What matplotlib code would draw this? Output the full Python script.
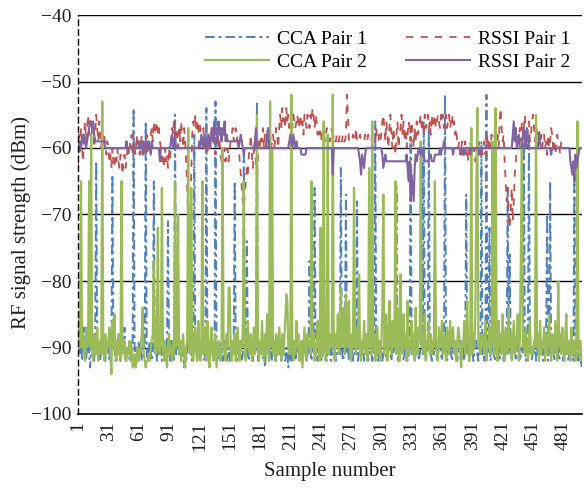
import matplotlib
matplotlib.use('Agg')
import matplotlib.pyplot as plt
import numpy as np

# values, one per sample (10 per line)
cca_pair1 = [
    -88, -90, -91, -89, -92, -90, -87, -91, -92, -90,
    -89, -91, -93, -90, -88, -91, -92, -89, -62, -90,
    -91, -89, -92, -90, -91, -88, -90, -92, -89, -91,
    -90, -92, -88, -91, -64, -90, -89, -92, -91, -90,
    -88, -91, -92, -90, -89, -91, -87, -92, -90, -91,
    -90, -92, -89, -91, -90, -54, -91, -93, -90, -92,
    -89, -91, -90, -92, -91, -89, -90, -56, -91, -92,
    -90, -89, -91, -92, -90, -65, -91, -89, -92, -90,
    -91, -88, -90, -92, -89, -91, -90, -92, -91, -71,
    -90, -92, -89, -91, -90, -92, -55, -91, -90, -89,
    -91, -90, -92, -89, -91, -93, -90, -92, -91, -89,
    -90, -77, -91, -92, -90, -58, -91, -89, -92, -90,
    -91, -92, -89, -90, -91, -92, -90, -54, -91, -89,
    -92, -90, -91, -89, -90, -92, -53, -91, -90, -92,
    -89, -91, -90, -92, -91, -89, -90, -92, -91, -90,
    -92, -90, -91, -89, -90, -65, -91, -92, -90, -89,
    -91, -90, -92, -91, -61, -90, -89, -74, -91, -92,
    -90, -91, -89, -92, -90, -91, -90, -53, -92, -90,
    -91, -89, -90, -92, -91, -93, -90, -89, -91, -92,
    -90, -91, -92, -89, -90, -91, -92, -90, -89, -91,
    -90, -92, -91, -89, -90, -92, -91, -90, -93, -91,
    -90, -92, -89, -91, -90, -92, -91, -89, -90, -92,
    -91, -90, -92, -89, -91, -90, -92, -91, -90, -77,
    -91, -92, -90, -89, -66, -91, -90, -92, -89, -91,
    -90, -92, -91, -89, -90, -91, -92, -90, -89, -91,
    -92, -90, -91, -89, -90, -92, -91, -90, -89, -91,
    -63, -90, -92, -91, -89, -67, -91, -90, -92, -89,
    -91, -90, -92, -89, -91, -90, -68, -92, -90, -91,
    -89, -91, -90, -92, -91, -89, -90, -92, -91, -90,
    -89, -92, -91, -90, -56, -91, -89, -92, -90, -91,
    -90, -92, -91, -89, -90, -92, -91, -90, -89, -91,
    -92, -90, -91, -89, -90, -66, -91, -92, -90, -89,
    -91, -90, -92, -91, -89, -90, -92, -91, -90, -57,
    -91, -89, -90, -92, -91, -90, -89, -92, -91, -90,
    -60, -91, -56, -90, -92, -91, -89, -57, -90, -91,
    -92, -90, -91, -89, -90, -92, -91, -90, -89, -91,
    -92, -90, -91, -52, -90, -92, -91, -89, -90, -91,
    -92, -90, -89, -91, -90, -92, -91, -90, -89, -92,
    -91, -90, -92, -89, -67, -91, -90, -92, -91, -89,
    -90, -92, -91, -90, -89, -91, -92, -90, -91, -59,
    -91, -90, -92, -89, -52, -91, -90, -72, -92, -91,
    -89, -90, -92, -91, -90, -89, -91, -92, -90, -91,
    -89, -92, -90, -91, -90, -66, -91, -76, -90, -92,
    -91, -89, -90, -92, -91, -90, -89, -92, -91, -90,
    -91, -59, -90, -92, -91, -89, -59, -91, -90, -92,
    -90, -91, -89, -92, -90, -91, -92, -90, -89, -91,
    -92, -90, -91, -89, -70, -92, -90, -65, -91, -89,
    -90, -92, -91, -90, -89, -91, -92, -90, -91, -89,
    -92, -90, -91, -89, -90, -92, -91, -90, -89, -91,
    -92, -64, -90, -91, -89, -92, -90, -91, -93, -90,
]

cca_pair2 = [
    -85, -88, -90, -65, -90, -88, -91, -92, -87, -90,
    -89, -65, -90, -58, -91, -92, -88, -90, -91, -87,
    -92, -90, -89, -91, -53, -90, -92, -88, -91, -90,
    -89, -87, -91, -94, -86, -90, -85, -91, -92, -89,
    -91, -88, -92, -65, -90, -91, -89, -92, -92, -90,
    -91, -89, -92, -90, -93, -92, -91, -93, -92, -90,
    -92, -91, -90, -88, -84, -91, -92, -93, -92, -92,
    -91, -92, -90, -89, -88, -77, -90, -91, -89, -72,
    -90, -91, -88, -66, -90, -92, -89, -91, -93, -90,
    -88, -91, -90, -92, -89, -91, -65, -90, -88, -70,
    -91, -89, -92, -90, -88, -91, -93, -90, -89, -57,
    -90, -91, -66, -90, -92, -89, -87, -91, -92, -86,
    -90, -92, -89, -65, -91, -87, -90, -92, -86, -91,
    -93, -89, -87, -91, -92, -90, -88, -93, -91, -89,
    -91, -92, -90, -60, -89, -91, -92, -88, -90, -81,
    -81, -90, -92, -89, -91, -88, -92, -90, -87, -91,
    -92, -89, -90, -88, -65, -91, -92, -89, -86, -90,
    -91, -88, -92, -90, -87, -91, -89, -55, -90, -92,
    -89, -91, -86, -90, -92, -88, -91, -85, -90, -92,
    -53, -90, -60, -91, -89, -92, -88, -90, -91, -87,
    -90, -92, -88, -91, -89, -86, -82, -83, -90, -91,
    -88, -52, -90, -92, -89, -91, -86, -90, -88, -92,
    -91, -89, -93, -90, -87, -91, -92, -88, -90, -89,
    -91, -65, -90, -88, -92, -91, -89, -86, -90, -92,
    -72, -90, -91, -56, -89, -92, -90, -58, -91, -88,
    -90, -89, -52, -91, -92, -88, -90, -85, -91, -89,
    -81, -90, -88, -84, -91, -82, -89, -90, -83, -91,
    -92, -88, -90, -66, -89, -91, -87, -90, -79, -91,
    -92, -89, -90, -86, -91, -88, -92, -90, -63, -89,
    -91, -56, -90, -88, -92, -90, -87, -91, -89, -92,
    -90, -84, -67, -91, -88, -85, -92, -90, -83, -89,
    -91, -86, -90, -88, -65, -91, -84, -90, -92, -79,
    -89, -91, -85, -90, -88, -92, -83, -91, -89, -90,
    -86, -91, -88, -92, -84, -90, -91, -87, -89, -59,
    -90, -88, -91, -85, -92, -89, -90, -86, -91, -88,
    -91, -89, -90, -65, -88, -91, -92, -87, -90, -89,
    -86, -91, -88, -90, -92, -87, -89, -91, -86, -90,
    -88, -87, -91, -89, -92, -90, -87, -88, -91, -93,
    -89, -90, -86, -91, -88, -83, -90, -92, -89, -57,
    -91, -88, -90, -85, -66, -54, -90, -89, -91, -88,
    -90, -88, -91, -86, -92, -89, -90, -87, -91, -88,
    -59, -90, -91, -54, -89, -92, -86, -90, -88, -91,
    -85, -90, -92, -87, -89, -91, -84, -90, -88, -92,
    -89, -86, -91, -90, -88, -85, -92, -89, -77, -59,
    -90, -88, -91, -87, -90, -92, -89, -86, -91, -90,
    -91, -89, -90, -55, -90, -88, -92, -86, -91, -89,
    -90, -87, -92, -88, -91, -89, -85, -90, -92, -88,
    -90, -91, -86, -89, -92, -80, -90, -88, -91, -87,
    -90, -92, -88, -85, -91, -89, -90, -92, -87, -91,
    -89, -90, -92, -88, -56, -91, -90, -89, -92, -91,
]

rssi_pair1 = [
    -63, -58, -61, -57, -60, -62, -58, -56, -59, -57,
    -55, -58, -56, -59, -57, -56, -60, -58, -55, -57,
    -59, -56, -58, -60, -57, -59, -58, -60, -61, -59,
    -60, -62, -61, -63, -60, -62, -63, -61, -62, -60,
    -62, -63, -61, -62, -64, -62, -61, -63, -62, -60,
    -61, -59, -60, -58, -61, -59, -60, -61, -58, -60,
    -59, -61, -60, -58, -60, -61, -59, -60, -58, -61,
    -60, -59, -58, -57, -59, -56, -58, -57, -56, -58,
    -57, -59, -60, -62, -61, -63, -60, -62, -61, -63,
    -60, -62, -59, -57, -58, -56, -59, -57, -58, -60,
    -57, -59, -56, -58, -60, -57, -59, -62, -66, -71,
    -75, -72, -64, -58, -56, -57, -55, -57, -56, -58,
    -56, -57, -59, -58, -57, -60, -58, -59, -61, -58,
    -59, -60, -57, -59, -58, -60, -61, -59, -58, -60,
    -59, -61, -62, -61, -62, -60, -62, -61, -60, -62,
    -60, -59, -58, -57, -59, -58, -57, -59, -58, -60,
    -62, -64, -66, -68, -69, -67, -65, -63, -64, -61,
    -60, -58, -61, -63, -60, -59, -62, -65, -61, -59,
    -60, -58, -59, -57, -60, -58, -59, -60, -57, -59,
    -58, -60, -59, -58, -60, -59, -57, -58, -60, -57,
    -55, -57, -54, -56, -55, -57, -54, -56, -55, -57,
    -56, -54, -57, -55, -56, -57, -56, -55, -57, -56,
    -55, -57, -56, -58, -55, -56, -57, -55, -56, -57,
    -55, -56, -54, -55, -57, -55, -56, -58, -57, -58,
    -57, -59, -58, -57, -59, -58, -57, -59, -58, -59,
    -58, -57, -59, -58, -59, -59, -58, -59, -59, -58,
    -59, -59, -58, -59, -59, -58, -52, -55, -59, -59,
    -59, -59, -58, -59, -59, -57, -59, -59, -59, -58,
    -59, -59, -59, -59, -58, -59, -59, -58, -59, -59,
    -59, -58, -59, -59, -59, -57, -59, -59, -58, -59,
    -58, -56, -55, -57, -59, -56, -58, -60, -57, -55,
    -58, -60, -57, -59, -61, -58, -56, -60, -58, -57,
    -55, -58, -56, -59, -57, -60, -58, -56, -57, -59,
    -56, -58, -60, -57, -59, -56, -58, -57, -56, -55,
    -57, -56, -58, -55, -57, -56, -55, -57, -56, -58,
    -55, -57, -56, -55, -57, -56, -55, -56, -57, -55,
    -56, -55, -57, -56, -55, -57, -56, -55, -57, -56,
    -55, -57, -56, -58, -57, -59, -60, -59, -61, -60,
    -59, -61, -60, -59, -61, -60, -62, -60, -59, -61,
    -60, -61, -60, -62, -60, -61, -60, -59, -61, -60,
    -61, -60, -59, -61, -60, -58, -60, -59, -60, -58,
    -59, -60, -58, -57, -59, -58, -60, -56, -54, -57,
    -59, -58, -62, -65, -68, -66, -70, -72, -69, -66,
    -71, -68, -64, -62, -60, -58, -59, -57, -59, -56,
    -58, -57, -55, -58, -60, -57, -56, -59, -58, -56,
    -55, -57, -59, -56, -58, -60, -57, -59, -58, -60,
    -59, -58, -60, -59, -61, -58, -60, -59, -57, -58,
    -60, -59, -61, -60, -58, -59, -60, -61, -59, -60,
    -60, -60, -60, -60, -60, -60, -60, -60, -60, -60,
    -60, -60, -60, -60, -60, -60, -60, -60, -60, -60,
]

rssi_pair2 = [
    -60, -59, -59, -60, -59, -58, -58, -59, -60, -59,
    -58, -57, -56, -56, -57, -56, -58, -59, -59, -59,
    -59, -59, -59, -59, -59, -59, -59, -60, -60, -60,
    -60, -60, -60, -60, -60, -60, -60, -60, -60, -60,
    -60, -60, -60, -60, -60, -60, -60, -60, -59, -60,
    -60, -60, -60, -60, -60, -60, -60, -60, -60, -60,
    -60, -59, -60, -59, -61, -59, -60, -59, -59, -60,
    -59, -60, -61, -59, -60, -60, -60, -60, -60, -60,
    -60, -62, -60, -60, -60, -60, -60, -60, -60, -60,
    -60, -60, -59, -58, -60, -59, -58, -60, -60, -60,
    -60, -60, -60, -60, -60, -60, -60, -60, -60, -60,
    -60, -60, -60, -60, -60, -60, -60, -60, -60, -60,
    -59, -60, -58, -59, -60, -58, -59, -60, -59, -58,
    -60, -59, -58, -57, -59, -56, -58, -57, -59, -56,
    -58, -57, -59, -57, -58, -56, -59, -58, -59, -59,
    -59, -59, -59, -59, -59, -59, -59, -59, -59, -60,
    -59, -58, -59, -60, -61, -60, -60, -60, -60, -60,
    -60, -60, -60, -60, -60, -59, -57, -60, -60, -60,
    -60, -60, -60, -60, -60, -60, -60, -58, -57, -60,
    -60, -60, -60, -60, -60, -60, -60, -60, -60, -60,
    -60, -60, -60, -60, -60, -60, -60, -60, -60, -59,
    -58, -59, -60, -58, -59, -60, -59, -60, -60, -60,
    -60, -61, -61, -61, -61, -61, -60, -60, -60, -60,
    -60, -60, -60, -60, -60, -60, -60, -60, -60, -60,
    -60, -60, -60, -60, -60, -60, -60, -60, -60, -60,
    -60, -60, -64, -60, -60, -60, -60, -60, -60, -60,
    -60, -60, -60, -60, -60, -60, -60, -60, -60, -60,
    -60, -60, -60, -60, -60, -60, -60, -60, -61, -62,
    -64, -61, -62, -63, -61, -60, -60, -60, -60, -60,
    -60, -60, -60, -60, -60, -60, -60, -60, -60, -60,
    -60, -61, -63, -62, -61, -62, -62, -62, -62, -62,
    -62, -62, -62, -62, -62, -62, -62, -62, -62, -62,
    -62, -62, -62, -62, -62, -61, -63, -65, -62, -68,
    -64, -66, -68, -63, -61, -62, -61, -60, -60, -61,
    -60, -61, -61, -62, -62, -62, -62, -62, -61, -61,
    -62, -62, -62, -61, -61, -61, -61, -61, -60, -61,
    -60, -60, -59, -60, -60, -60, -60, -60, -60, -60,
    -60, -61, -60, -60, -60, -60, -60, -60, -60, -60,
    -61, -60, -61, -60, -60, -60, -60, -60, -61, -60,
    -60, -60, -60, -60, -60, -60, -60, -61, -60, -60,
    -60, -60, -60, -60, -60, -60, -60, -60, -60, -60,
    -60, -60, -60, -60, -60, -60, -60, -60, -60, -60,
    -60, -60, -60, -60, -60, -60, -60, -60, -60, -60,
    -58, -56, -59, -57, -60, -59, -58, -60, -60, -60,
    -58, -57, -59, -60, -57, -58, -60, -60, -60, -60,
    -60, -60, -60, -60, -60, -60, -58, -59, -60, -60,
    -60, -60, -60, -60, -60, -60, -60, -60, -61, -60,
    -60, -60, -60, -60, -60, -60, -60, -60, -60, -60,
    -60, -60, -60, -60, -60, -60, -60, -62, -63, -64,
    -62, -65, -61, -63, -62, -61, -60, -60, -60, -60,
]

y_ticks = [-100, -90, -80, -70, -60, -50, -40]
x_ticks = list(range(1, 482, 30))

plt.rcParams['font.family'] = ['Liberation Serif', 'DejaVu Serif']

fig = plt.figure(figsize=(5.85, 4.88), dpi=100)
ax = fig.add_axes([78 / 585, 1 - 414 / 488, 504 / 585, 399 / 488])

def samples(vals):
    return np.arange(1, len(vals) + 1)

l1, = ax.plot(samples(cca_pair1), cca_pair1, color='#4F81BD', lw=1.4,
              ls=(0, (5, 2, 1.5, 2)), label='CCA Pair 1')
l3, = ax.plot(samples(rssi_pair1), rssi_pair1, color='#C0504D', lw=1.3,
              ls=(0, (4, 4)), label='RSSI Pair 1')
l2, = ax.plot(samples(cca_pair2), cca_pair2, color='#9BBB59', lw=1.6,
              label='CCA Pair 2')
l4, = ax.plot(samples(rssi_pair2), rssi_pair2, color='#8064A2', lw=1.5,
              label='RSSI Pair 2')

ax.set_xlim(1, 499.5)
ax.set_ylim(-100, -40)
ax.set_yticks(y_ticks)
ax.set_xticks(x_ticks)
ax.set_xticklabels([str(t) for t in x_ticks], rotation=90)
ax.tick_params(length=0, labelsize=14, colors='#231f20')
ax.tick_params(axis='x', pad=5)
ax.tick_params(axis='y', pad=5)

ax.set_axisbelow(True)
ax.grid(axis='y', color='black', lw=1.0)
ax.grid(axis='x', visible=False)
ax.spines['top'].set_visible(False)
ax.spines['right'].set_visible(False)
ax.spines['left'].set_linestyle((0, (4, 3)))
ax.spines['left'].set_linewidth(1.0)
ax.spines['bottom'].set_linewidth(1.2)

ax.set_xlabel('Sample number', fontsize=15, color='#231f20')
ax.set_ylabel('RF signal strength (dBm)', fontsize=15, color='#231f20')
ax.xaxis.set_label_coords(0.5, -0.12)
ax.yaxis.set_label_coords(-0.093, 0.48)

ax.legend(handles=[l1, l2, l3, l4], ncol=2, frameon=False, fontsize=14,
          loc='upper right', bbox_to_anchor=(1.0, 1.0 - 0.01),
          handlelength=3.3, handletextpad=0.4, columnspacing=2.0,
          labelspacing=0.25, borderaxespad=0.2)

fig.savefig('out.png', dpi=100)
